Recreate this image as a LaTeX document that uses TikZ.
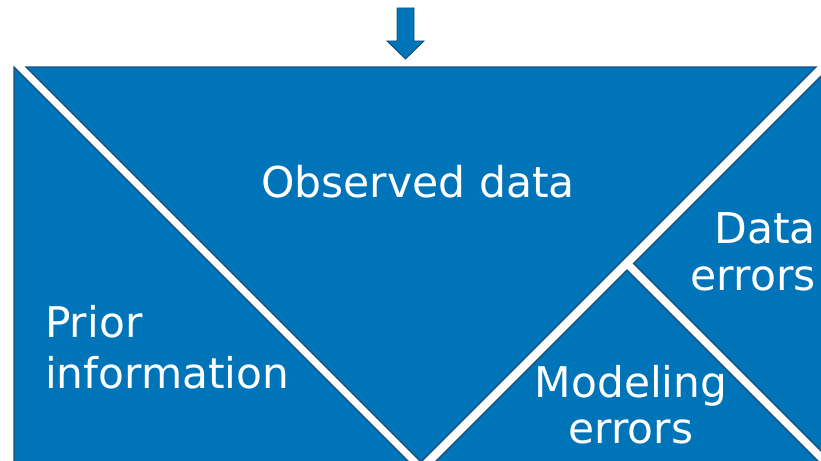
\documentclass[tikz,border=0pt]{standalone}
\usepackage{fontspec}
\setmainfont{DejaVu Sans}
\definecolor{pieceblue}{RGB}{0,116,185}
\definecolor{edgeblue}{RGB}{28,78,122}
\begin{document}
\begin{tikzpicture}[x=1pt,y=-1pt,
  piece/.style={fill=pieceblue,draw=edgeblue,line width=1.2pt,line join=miter},
  label/.style={text=white,inner sep=0pt}]
\useasboundingbox (0,0) rectangle (821,460);
\begin{scope}
\clip (0,0) rectangle (821,460);
% left piece (prior information)
\draw[piece] (14,67) -- (14,520) -- (467,520) -- cycle;
% top inverted triangle (observed data)
\draw[piece] (26,67) -- (816,67) -- (421,462) -- cycle;
% data errors piece
\draw[piece] (633.5,263.5) -- (830,67) -- (920,67) -- (920,550) -- cycle;
% modeling errors piece
\draw[piece] (627,270) -- (377,520) -- (877,520) -- cycle;
\end{scope}
% arrow
\draw[piece,line width=0.9pt] (397,8) -- (414,8) -- (414,41) -- (424,41) -- (405.5,59) -- (387,41) -- (397,41) -- cycle;
% labels
\node[label,font=\fontsize{42.5}{50}\selectfont,anchor=base] (obs) at (418,197) {Observed data};
\node[label,font=\fontsize{42.3}{51}\selectfont,anchor=base west,align=left] (prior) at (45,388) {Prior\\information};
\node[label,font=\fontsize{42.5}{47}\selectfont,anchor=base east,align=right] (data) at (816,290) {Data\\errors};
\node[label,font=\fontsize{42.3}{46}\selectfont,anchor=base,align=center] (model) at (631,443) {Modeling\\errors};
\end{tikzpicture}
\end{document}
